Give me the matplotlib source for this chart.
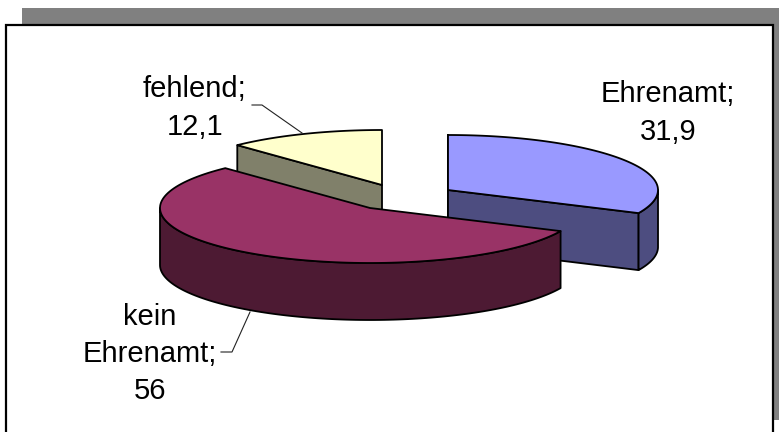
import numpy as np
import matplotlib
matplotlib.use('Agg')
import matplotlib.pyplot as plt
from matplotlib.patches import Polygon, Rectangle

plt.rcParams['font.family'] = ['Liberation Sans', 'DejaVu Sans']

# 数据
categories = ['Ehrenamt', 'kein\nEhrenamt', 'fehlend']
values = [31.9, 56, 12.1]
value_labels = ['31,9', '56', '12,1']

# 颜色: 顶面, 侧面
top_colors = ['#9999FF', '#993366', '#FFFFCC']
side_colors = ['#4D4D80', '#4D1A33', '#80806A']

# 每一块的圆心 (像素), 椭圆半轴, 厚度
centers = [(448, 190), (370, 208), (382, 185)]
rx, ry = 210, 55
depth = 57


def pt(c, ang):
    # 角度从12点钟方向顺时针
    a = np.radians(ang)
    return np.column_stack([c[0] + rx * np.sin(a), c[1] - ry * np.cos(a)])


fig = plt.figure(figsize=(7.79, 4.32), dpi=100)
ax = fig.add_axes([0, 0, 1, 1])
ax.set_xlim(0, 779)
ax.set_ylim(432, 0)
ax.axis('off')

# 灰色阴影和黑色边框
ax.add_patch(Rectangle((22, 8), 757, 412, fc='#808080', ec='none', zorder=0))
ax.add_patch(Rectangle((6, 24.5), 767.5, 420, fc='white', ec='black', lw=1.6, zorder=1))

# 由数值计算角度
angles = np.cumsum([0] + values) / sum(values) * 360
draw_order = [0, 2, 1]
z = 2
for i in draw_order:
    start, end = angles[i], angles[i + 1]
    c = centers[i]
    arc = pt(c, np.linspace(start, end, 120))
    center = np.array([c])
    down = np.array([0, depth])

    # 径向切面
    for ang in (start, end):
        if i == 0 or (i == 2 and ang == start):
            e = pt(c, np.array([ang]))
            quad = np.vstack([center, e, e + down, center + down])
            ax.add_patch(Polygon(quad, fc=side_colors[i], ec='black', lw=1.3, joinstyle='round', zorder=z))
            z += 1

    # 外侧弧面 (只画前面能看到的部分)
    lo, hi = max(start, 90), min(end, 270)
    if lo < hi:
        rim = pt(c, np.linspace(lo, hi, 120))
        poly = np.vstack([rim, (rim + down)[::-1]])
        ax.add_patch(Polygon(poly, fc=side_colors[i], ec='black', lw=1.3, joinstyle='round', zorder=z))
        z += 1

    # 顶面
    ax.add_patch(Polygon(np.vstack([center, arc]), fc=top_colors[i], ec='black', lw=1.3, joinstyle='round', zorder=z))
    z += 1

# 标签
label_pos = [(668, 113), (150, 354), (195, 108)]
for cat, val, (x, y) in zip(categories, value_labels, label_pos):
    ax.text(x, y, cat + ';\n' + val, ha='center', va='center', fontsize=21, linespacing=1.42,
            color='black', zorder=20)

# 引导线
ax.plot([252, 262, 302], [105, 105, 133], color='#222222', lw=0.8, zorder=20)
ax.plot([221, 232, 250], [352, 352, 312], color='#222222', lw=0.8, zorder=20)

fig.savefig('out.png', dpi=100)
